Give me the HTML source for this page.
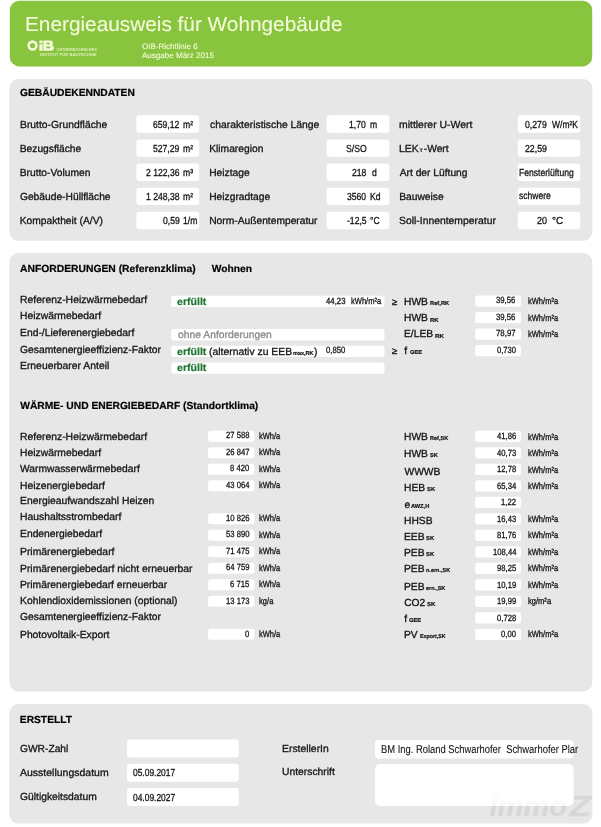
<!DOCTYPE html>
<html><head><meta charset="utf-8"><title>Energieausweis</title>
<style>
html,body{margin:0;padding:0;background:#fff;}
body{width:601px;height:827px;position:relative;overflow:hidden;font-family:"Liberation Sans",sans-serif;}
.p{position:absolute;}
#txt{position:absolute;left:0;top:0;width:601px;height:827px;filter:blur(0.35px);}
.t{position:absolute;white-space:pre;line-height:1;transform-origin:0 0;text-rendering:geometricPrecision;-webkit-text-stroke:0.3px;}
</style></head><body>
<svg class="p" style="left:0;top:0;filter:blur(0.4px)" width="601" height="827" viewBox="0 0 601 827">
<rect x="9.8" y="0.8" width="582.4" height="65.6" rx="9.5" fill="#88c43d"/>
<rect x="9.4" y="79" width="582.9" height="161.8" rx="9" fill="#e7e7e7"/>
<rect x="9.4" y="253" width="582.9" height="438.4" rx="9" fill="#e7e7e7"/>
<rect x="9.4" y="704" width="582.9" height="119.6" rx="9" fill="#e7e7e7"/>
<g fill="#fff">
<rect x="136.4" y="115.3" width="62.8" height="17.4" rx="3"/>
<rect x="326.6" y="115.3" width="62.7" height="17.4" rx="3"/>
<rect x="517.8" y="115.3" width="62.5" height="17.4" rx="3"/>
<rect x="136.4" y="139.4" width="62.8" height="17.4" rx="3"/>
<rect x="326.6" y="139.4" width="62.7" height="17.4" rx="3"/>
<rect x="517.8" y="139.4" width="62.5" height="17.4" rx="3"/>
<rect x="136.4" y="163.6" width="62.8" height="17.4" rx="3"/>
<rect x="326.6" y="163.6" width="62.7" height="17.4" rx="3"/>
<rect x="517.8" y="163.6" width="62.5" height="17.4" rx="3"/>
<rect x="136.4" y="187.7" width="62.8" height="17.4" rx="3"/>
<rect x="326.6" y="187.7" width="62.7" height="17.4" rx="3"/>
<rect x="517.8" y="187.7" width="62.5" height="17.4" rx="3"/>
<rect x="136.4" y="211.8" width="62.8" height="17.4" rx="3"/>
<rect x="326.6" y="211.8" width="62.7" height="17.4" rx="3"/>
<rect x="517.8" y="211.8" width="62.5" height="17.4" rx="3"/>
<rect x="171.2" y="295.7" width="213.3" height="11.4" rx="2.5"/>
<rect x="171.2" y="329.0" width="213.3" height="11.4" rx="2.5"/>
<rect x="171.2" y="345.7" width="213.3" height="11.4" rx="2.5"/>
<rect x="171.2" y="362.4" width="213.3" height="11.4" rx="2.5"/>
<rect x="475.2" y="295.5" width="45.8" height="11.3" rx="2.5"/>
<rect x="475.2" y="312.0" width="45.8" height="11.3" rx="2.5"/>
<rect x="475.2" y="328.5" width="45.8" height="11.3" rx="2.5"/>
<rect x="475.2" y="345.0" width="45.8" height="11.3" rx="2.5"/>
<rect x="208.0" y="430.8" width="46.4" height="11.0" rx="2.5"/>
<rect x="208.0" y="447.3" width="46.4" height="11.0" rx="2.5"/>
<rect x="208.0" y="463.8" width="46.4" height="11.0" rx="2.5"/>
<rect x="208.0" y="480.3" width="46.4" height="11.0" rx="2.5"/>
<rect x="208.0" y="513.3" width="46.4" height="11.0" rx="2.5"/>
<rect x="208.0" y="529.8" width="46.4" height="11.0" rx="2.5"/>
<rect x="208.0" y="546.3" width="46.4" height="11.0" rx="2.5"/>
<rect x="208.0" y="562.8" width="46.4" height="11.0" rx="2.5"/>
<rect x="208.0" y="579.3" width="46.4" height="11.0" rx="2.5"/>
<rect x="208.0" y="595.8" width="46.4" height="11.0" rx="2.5"/>
<rect x="208.0" y="628.8" width="46.4" height="11.0" rx="2.5"/>
<rect x="475.2" y="430.8" width="45.8" height="11.2" rx="2.5"/>
<rect x="475.2" y="447.3" width="45.8" height="11.2" rx="2.5"/>
<rect x="475.2" y="463.8" width="45.8" height="11.2" rx="2.5"/>
<rect x="475.2" y="480.3" width="45.8" height="11.2" rx="2.5"/>
<rect x="475.2" y="496.8" width="45.8" height="11.2" rx="2.5"/>
<rect x="475.2" y="513.3" width="45.8" height="11.2" rx="2.5"/>
<rect x="475.2" y="529.8" width="45.8" height="11.2" rx="2.5"/>
<rect x="475.2" y="546.3" width="45.8" height="11.2" rx="2.5"/>
<rect x="475.2" y="562.8" width="45.8" height="11.2" rx="2.5"/>
<rect x="475.2" y="579.3" width="45.8" height="11.2" rx="2.5"/>
<rect x="475.2" y="595.8" width="45.8" height="11.2" rx="2.5"/>
<rect x="475.2" y="612.3" width="45.8" height="11.2" rx="2.5"/>
<rect x="475.2" y="628.8" width="45.8" height="11.2" rx="2.5"/>
<rect x="127.0" y="739.6" width="111.8" height="18.0" rx="3"/>
<rect x="127.0" y="763.8" width="111.8" height="18.0" rx="3"/>
<rect x="127.0" y="788.0" width="111.8" height="18.0" rx="3"/>
<rect x="375.0" y="740.0" width="198.5" height="18.6" rx="3.5"/>
<rect x="375.0" y="764.0" width="198.6" height="42.0" rx="5"/>
</g></svg>
<div id="txt">
<span class="t" style="left:25.34px;top:15px;font-size:20.3px;color:#f3f9d9;transform:scaleX(1.0252);-webkit-text-stroke:0.1px;">Energieausweis für Wohngebäude</span>
<span class="t" style="left:142.10px;top:43px;font-size:8px;color:#f3f9d9;-webkit-text-stroke:0.12px;">OIB-Richtlinie 6</span>
<span class="t" style="left:142.17px;top:52px;font-size:8px;color:#f3f9d9;transform:scaleX(1.0044);-webkit-text-stroke:0.12px;">Ausgabe März 2015</span>
<span class="t" style="left:20.02px;top:89px;font-size:10.26px;color:#000;font-weight:700;-webkit-text-stroke:0.2px;">GEBÄUDEKENNDATEN</span>
<span class="t" style="left:19.70px;top:121px;font-size:10.26px;color:#141414;transform:scaleX(1.0081);">Brutto-Grundfläche</span>
<span class="t" style="left:19.73px;top:145px;font-size:10.26px;color:#141414;">Bezugsfläche</span>
<span class="t" style="left:19.73px;top:169px;font-size:10.26px;color:#141414;">Brutto-Volumen</span>
<span class="t" style="left:19.94px;top:193px;font-size:10.26px;color:#141414;">Gebäude-Hüllfläche</span>
<span class="t" style="left:19.72px;top:217px;font-size:10.26px;color:#141414;">Kompaktheit (A/V)</span>
<span class="t" style="left:209.51px;top:121px;font-size:10.26px;color:#141414;transform:scaleX(1.0099);">charakteristische Länge</span>
<span class="t" style="left:209.23px;top:145px;font-size:10.26px;color:#141414;">Klimaregion</span>
<span class="t" style="left:209.23px;top:169px;font-size:10.26px;color:#141414;">Heiztage</span>
<span class="t" style="left:209.23px;top:193px;font-size:10.26px;color:#141414;">Heizgradtage</span>
<span class="t" style="left:209.21px;top:217px;font-size:10.26px;color:#141414;">Norm-Außentemperatur</span>
<span class="t" style="left:399.30px;top:121px;font-size:10.26px;color:#141414;transform:scaleX(1.0163);">mittlerer U-Wert</span>
<span class="t" style="left:399.72px;top:169px;font-size:10.26px;color:#141414;">Art der Lüftung</span>
<span class="t" style="left:399.23px;top:193px;font-size:10.26px;color:#141414;">Bauweise</span>
<span class="t" style="left:399.25px;top:217px;font-size:10.26px;color:#141414;transform:scaleX(1.0122);">Soll-Innentemperatur</span>
<span class="t" style="left:399.21px;top:145px;font-size:10.26px;color:#141414;transform:scaleX(1.0154);">LEK</span>
<span class="t" style="left:419.68px;top:150px;font-size:4.8px;color:#141414;font-weight:700;-webkit-text-stroke:0.2px;">T</span>
<span class="t" style="left:423.77px;top:145px;font-size:10.26px;color:#141414;">-Wert</span>
<span class="t" style="left:153.28px;top:121px;font-size:10.2px;color:#141414;transform:scaleX(0.8450);">659,12</span>
<span class="t" style="left:182.83px;top:121px;font-size:10.2px;color:#141414;transform:scaleX(0.8450);">m²</span>
<span class="t" style="left:153.09px;top:145px;font-size:10.2px;color:#141414;transform:scaleX(0.8450);">527,29</span>
<span class="t" style="left:182.83px;top:145px;font-size:10.2px;color:#141414;transform:scaleX(0.8450);">m²</span>
<span class="t" style="left:145.89px;top:169px;font-size:10.2px;color:#141414;transform:scaleX(0.8450);">2 122,36</span>
<span class="t" style="left:182.83px;top:169px;font-size:10.2px;color:#141414;transform:scaleX(0.8450);">m³</span>
<span class="t" style="left:145.92px;top:193px;font-size:10.2px;color:#141414;transform:scaleX(0.8450);">1 248,38</span>
<span class="t" style="left:182.83px;top:193px;font-size:10.2px;color:#141414;transform:scaleX(0.8450);">m²</span>
<span class="t" style="left:162.58px;top:217px;font-size:10.2px;color:#141414;transform:scaleX(0.8450);">0,59</span>
<span class="t" style="left:182.71px;top:217px;font-size:10.2px;color:#141414;transform:scaleX(0.8450);">1/m</span>
<span class="t" style="left:349.17px;top:121px;font-size:10.2px;color:#141414;transform:scaleX(0.8450);">1,70</span>
<span class="t" style="left:370.13px;top:121px;font-size:10.2px;color:#141414;transform:scaleX(0.8450);">m</span>
<span class="t" style="left:345.62px;top:145px;font-size:10.2px;color:#141414;transform:scaleX(0.8450);">S/SO</span>
<span class="t" style="left:351.80px;top:169px;font-size:10.2px;color:#141414;transform:scaleX(0.8450);">218</span>
<span class="t" style="left:372.34px;top:169px;font-size:10.2px;color:#141414;transform:scaleX(0.8450);">d</span>
<span class="t" style="left:346.80px;top:193px;font-size:10.2px;color:#141414;transform:scaleX(0.8450);">3560</span>
<span class="t" style="left:370.05px;top:193px;font-size:10.2px;color:#141414;transform:scaleX(0.8450);">Kd</span>
<span class="t" style="left:346.55px;top:217px;font-size:10.2px;color:#141414;transform:scaleX(0.8450);">-12,5</span>
<span class="t" style="left:370.07px;top:217px;font-size:10.2px;color:#141414;transform:scaleX(0.8450);">°C</span>
<span class="t" style="left:524.75px;top:121px;font-size:10.2px;color:#141414;transform:scaleX(0.8522);">0,279</span>
<span class="t" style="left:551.76px;top:121px;font-size:10.2px;color:#141414;transform:scaleX(0.8340);">W/m²K</span>
<span class="t" style="left:524.62px;top:145px;font-size:10.2px;color:#141414;transform:scaleX(0.8582);">22,59</span>
<span class="t" style="left:519.15px;top:169px;font-size:10.2px;color:#141414;transform:scaleX(0.8408);">Fensterlüftung</span>
<span class="t" style="left:519.30px;top:192px;font-size:10.2px;color:#141414;transform:scaleX(0.8393);">schwere</span>
<span class="t" style="left:536.50px;top:217px;font-size:10.2px;color:#141414;transform:scaleX(0.8826);">20</span>
<span class="t" style="left:551.67px;top:217px;font-size:10.2px;color:#141414;transform:scaleX(0.9804);">°C</span>
<span class="t" style="left:20.02px;top:265px;font-size:10.26px;color:#000;font-weight:700;-webkit-text-stroke:0.2px;transform:scaleX(1.0075);">ANFORDERUNGEN (Referenzklima)</span>
<span class="t" style="left:211.76px;top:265px;font-size:10.26px;color:#000;font-weight:700;-webkit-text-stroke:0.2px;">Wohnen</span>
<span class="t" style="left:19.72px;top:296px;font-size:10.26px;color:#141414;transform:scaleX(1.0138);">Referenz-Heizwärmebedarf</span>
<span class="t" style="left:19.72px;top:312px;font-size:10.26px;color:#141414;transform:scaleX(1.0091);">Heizwärmebedarf</span>
<span class="t" style="left:19.72px;top:329px;font-size:10.26px;color:#141414;transform:scaleX(1.0091);">End-/Lieferenergiebedarf</span>
<span class="t" style="left:19.94px;top:346px;font-size:10.26px;color:#141414;transform:scaleX(1.0073);">Gesamtenergieeffizienz-Faktor</span>
<span class="t" style="left:19.71px;top:362px;font-size:10.26px;color:#141414;transform:scaleX(1.0106);">Erneuerbarer Anteil</span>
<span class="t" style="left:177.49px;top:298px;font-size:10.26px;color:#1f7632;font-weight:700;-webkit-text-stroke:0.2px;transform:scaleX(1.0315);">erfüllt</span>
<span class="t" style="left:177.52px;top:331px;font-size:10.26px;color:#8a8a8a;transform:scaleX(1.0083);">ohne Anforderungen</span>
<span class="t" style="left:177.49px;top:348px;font-size:10.26px;color:#1f7632;font-weight:700;-webkit-text-stroke:0.2px;transform:scaleX(1.0315);">erfüllt</span>
<span class="t" style="left:208.54px;top:348px;font-size:10.26px;color:#141414;transform:scaleX(1.0131);">(alternativ zu EEB</span>
<span class="t" style="left:293.33px;top:352px;font-size:5.7px;color:#141414;font-weight:700;-webkit-text-stroke:0.2px;transform:scaleX(0.9696);">max,RK</span>
<span class="t" style="left:314.07px;top:348px;font-size:10.26px;color:#141414;">)</span>
<span class="t" style="left:177.49px;top:364px;font-size:10.26px;color:#1f7632;font-weight:700;-webkit-text-stroke:0.2px;transform:scaleX(1.0315);">erfüllt</span>
<span class="t" style="left:326.24px;top:297px;font-size:9.0px;color:#141414;transform:scaleX(0.8655);">44,23</span>
<span class="t" style="left:350.71px;top:297px;font-size:9.0px;color:#141414;transform:scaleX(0.8386);">kWh/m²a</span>
<span class="t" style="left:326.39px;top:346px;font-size:9.0px;color:#141414;transform:scaleX(0.8563);">0,850</span>
<span class="t" style="left:392.11px;top:298px;font-size:9px;color:#141414;transform:scaleX(1.0658);">≥</span>
<span class="t" style="left:392.11px;top:347px;font-size:9px;color:#141414;transform:scaleX(1.0658);">≥</span>
<span class="t" style="left:404.02px;top:298px;font-size:10.26px;color:#141414;">HWB</span>
<span class="t" style="left:429.94px;top:302px;font-size:5.7px;color:#141414;font-weight:700;-webkit-text-stroke:0.2px;transform:scaleX(1.0123);">Ref,RK</span>
<span class="t" style="left:404.02px;top:314px;font-size:10.26px;color:#141414;">HWB</span>
<span class="t" style="left:429.93px;top:319px;font-size:5.7px;color:#141414;font-weight:700;-webkit-text-stroke:0.2px;transform:scaleX(1.0483);">RK</span>
<span class="t" style="left:404.02px;top:330px;font-size:10.26px;color:#141414;">E/LEB</span>
<span class="t" style="left:434.61px;top:335px;font-size:5.7px;color:#141414;font-weight:700;-webkit-text-stroke:0.2px;transform:scaleX(1.0891);">RK</span>
<span class="t" style="left:404.35px;top:347px;font-size:10.26px;color:#141414;">f</span>
<span class="t" style="left:409.63px;top:351px;font-size:5.7px;color:#141414;font-weight:700;-webkit-text-stroke:0.2px;transform:scaleX(0.9952);">GEE</span>
<span class="t" style="left:496.46px;top:296px;font-size:9.0px;color:#141414;transform:scaleX(0.8611);">39,56</span>
<span class="t" style="left:527.71px;top:297px;font-size:9.0px;color:#141414;transform:scaleX(0.8358);">kWh/m²a</span>
<span class="t" style="left:496.46px;top:313px;font-size:9.0px;color:#141414;transform:scaleX(0.8611);">39,56</span>
<span class="t" style="left:527.71px;top:314px;font-size:9.0px;color:#141414;transform:scaleX(0.8358);">kWh/m²a</span>
<span class="t" style="left:496.39px;top:329px;font-size:9.0px;color:#141414;transform:scaleX(0.8731);">78,97</span>
<span class="t" style="left:527.71px;top:330px;font-size:9.0px;color:#141414;transform:scaleX(0.8358);">kWh/m²a</span>
<span class="t" style="left:496.68px;top:346px;font-size:9.0px;color:#141414;transform:scaleX(0.8479);">0,730</span>
<span class="t" style="left:20.26px;top:402px;font-size:10.26px;color:#000;font-weight:700;-webkit-text-stroke:0.2px;">WÄRME- UND ENERGIEBEDARF (Standortklima)</span>
<span class="t" style="left:19.72px;top:433px;font-size:10.26px;color:#141414;transform:scaleX(1.0138);">Referenz-Heizwärmebedarf</span>
<span class="t" style="left:19.72px;top:449px;font-size:10.26px;color:#141414;transform:scaleX(1.0091);">Heizwärmebedarf</span>
<span class="t" style="left:20.24px;top:465px;font-size:10.26px;color:#141414;transform:scaleX(1.0043);">Warmwasserwärmebedarf</span>
<span class="t" style="left:19.72px;top:482px;font-size:10.26px;color:#141414;transform:scaleX(1.0126);">Heizenergiebedarf</span>
<span class="t" style="left:19.70px;top:497px;font-size:10.26px;color:#141414;transform:scaleX(1.0106);">Energieaufwandszahl Heizen</span>
<span class="t" style="left:19.72px;top:513px;font-size:10.26px;color:#141414;transform:scaleX(1.0103);">Haushaltsstrombedarf</span>
<span class="t" style="left:19.72px;top:530px;font-size:10.26px;color:#141414;transform:scaleX(1.0072);">Endenergiebedarf</span>
<span class="t" style="left:19.72px;top:548px;font-size:10.26px;color:#141414;transform:scaleX(1.0110);">Primärenergiebedarf</span>
<span class="t" style="left:19.72px;top:565px;font-size:10.26px;color:#141414;transform:scaleX(1.0095);">Primärenergiebedarf nicht erneuerbar</span>
<span class="t" style="left:19.73px;top:581px;font-size:10.26px;color:#141414;transform:scaleX(1.0054);">Primärenergiebedarf erneuerbar</span>
<span class="t" style="left:19.72px;top:597px;font-size:10.26px;color:#141414;transform:scaleX(1.0086);">Kohlendioxidemissionen (optional)</span>
<span class="t" style="left:19.94px;top:613px;font-size:10.26px;color:#141414;transform:scaleX(1.0073);">Gesamtenergieeffizienz-Faktor</span>
<span class="t" style="left:19.72px;top:631px;font-size:10.26px;color:#141414;transform:scaleX(1.0064);">Photovoltaik-Export</span>
<span class="t" style="left:226.15px;top:431px;font-size:9.0px;color:#141414;transform:scaleX(0.8500);">27 588</span>
<span class="t" style="left:258.52px;top:432px;font-size:9.0px;color:#141414;transform:scaleX(0.8342);">kWh/a</span>
<span class="t" style="left:226.46px;top:448px;font-size:9.0px;color:#141414;transform:scaleX(0.8500);">26 847</span>
<span class="t" style="left:258.52px;top:448px;font-size:9.0px;color:#141414;transform:scaleX(0.8342);">kWh/a</span>
<span class="t" style="left:230.35px;top:464px;font-size:9.0px;color:#141414;transform:scaleX(0.8500);">8 420</span>
<span class="t" style="left:258.52px;top:465px;font-size:9.0px;color:#141414;transform:scaleX(0.8342);">kWh/a</span>
<span class="t" style="left:226.18px;top:481px;font-size:9.0px;color:#141414;transform:scaleX(0.8500);">43 064</span>
<span class="t" style="left:258.52px;top:481px;font-size:9.0px;color:#141414;transform:scaleX(0.8342);">kWh/a</span>
<span class="t" style="left:226.18px;top:514px;font-size:9.0px;color:#141414;transform:scaleX(0.8500);">10 826</span>
<span class="t" style="left:258.52px;top:514px;font-size:9.0px;color:#141414;transform:scaleX(0.8342);">kWh/a</span>
<span class="t" style="left:226.09px;top:530px;font-size:9.0px;color:#141414;transform:scaleX(0.8500);">53 890</span>
<span class="t" style="left:258.52px;top:531px;font-size:9.0px;color:#141414;transform:scaleX(0.8342);">kWh/a</span>
<span class="t" style="left:226.16px;top:547px;font-size:9.0px;color:#141414;transform:scaleX(0.8500);">71 475</span>
<span class="t" style="left:258.52px;top:547px;font-size:9.0px;color:#141414;transform:scaleX(0.8342);">kWh/a</span>
<span class="t" style="left:226.15px;top:563px;font-size:9.0px;color:#141414;transform:scaleX(0.8500);">64 759</span>
<span class="t" style="left:258.52px;top:564px;font-size:9.0px;color:#141414;transform:scaleX(0.8342);">kWh/a</span>
<span class="t" style="left:230.41px;top:580px;font-size:9.0px;color:#141414;transform:scaleX(0.8500);">6 715</span>
<span class="t" style="left:258.52px;top:580px;font-size:9.0px;color:#141414;transform:scaleX(0.8342);">kWh/a</span>
<span class="t" style="left:226.16px;top:597px;font-size:9.0px;color:#141414;transform:scaleX(0.8500);">13 173</span>
<span class="t" style="left:258.51px;top:597px;font-size:9.0px;color:#141414;transform:scaleX(0.8470);">kg/a</span>
<span class="t" style="left:245.17px;top:630px;font-size:9.0px;color:#141414;transform:scaleX(0.8500);">0</span>
<span class="t" style="left:258.52px;top:630px;font-size:9.0px;color:#141414;transform:scaleX(0.8342);">kWh/a</span>
<span class="t" style="left:404.02px;top:433px;font-size:10.26px;color:#141414;">HWB</span>
<span class="t" style="left:430.05px;top:437px;font-size:5.7px;color:#141414;font-weight:700;-webkit-text-stroke:0.2px;transform:scaleX(0.9739);">Ref,SK</span>
<span class="t" style="left:404.02px;top:450px;font-size:10.26px;color:#141414;">HWB</span>
<span class="t" style="left:430.01px;top:454px;font-size:5.7px;color:#141414;font-weight:700;-webkit-text-stroke:0.2px;">SK</span>
<span class="t" style="left:404.52px;top:468px;font-size:10.26px;color:#141414;">WWWB</span>
<span class="t" style="left:404.02px;top:484px;font-size:10.26px;color:#141414;">HEB</span>
<span class="t" style="left:426.90px;top:488px;font-size:5.7px;color:#141414;font-weight:700;-webkit-text-stroke:0.2px;transform:scaleX(1.0299);">SK</span>
<span class="t" style="left:404.43px;top:501px;font-size:10.26px;color:#141414;">e</span>
<span class="t" style="left:411.31px;top:505px;font-size:5.7px;color:#141414;font-weight:700;-webkit-text-stroke:0.2px;transform:scaleX(0.9952);">AWZ,H</span>
<span class="t" style="left:404.02px;top:517px;font-size:10.26px;color:#141414;">HHSB</span>
<span class="t" style="left:404.02px;top:533px;font-size:10.26px;color:#141414;">EEB</span>
<span class="t" style="left:426.00px;top:537px;font-size:5.7px;color:#141414;font-weight:700;-webkit-text-stroke:0.2px;transform:scaleX(1.0299);">SK</span>
<span class="t" style="left:404.02px;top:549px;font-size:10.26px;color:#141414;">PEB</span>
<span class="t" style="left:426.00px;top:553px;font-size:5.7px;color:#141414;font-weight:700;-webkit-text-stroke:0.2px;transform:scaleX(1.0299);">SK</span>
<span class="t" style="left:404.02px;top:565px;font-size:10.26px;color:#141414;">PEB</span>
<span class="t" style="left:426.07px;top:569px;font-size:5.7px;color:#141414;font-weight:700;-webkit-text-stroke:0.2px;transform:scaleX(0.9656);">n.ern.,SK</span>
<span class="t" style="left:404.02px;top:583px;font-size:10.26px;color:#141414;">PEB</span>
<span class="t" style="left:426.20px;top:587px;font-size:5.7px;color:#141414;font-weight:700;-webkit-text-stroke:0.2px;transform:scaleX(0.9708);">ern.,SK</span>
<span class="t" style="left:404.23px;top:599px;font-size:10.26px;color:#141414;">CO2</span>
<span class="t" style="left:426.69px;top:603px;font-size:5.7px;color:#141414;font-weight:700;-webkit-text-stroke:0.2px;transform:scaleX(1.0716);">SK</span>
<span class="t" style="left:404.35px;top:615px;font-size:10.26px;color:#141414;">f</span>
<span class="t" style="left:408.83px;top:619px;font-size:5.7px;color:#141414;font-weight:700;-webkit-text-stroke:0.2px;transform:scaleX(1.0040);">GEE</span>
<span class="t" style="left:404.03px;top:631px;font-size:10.26px;color:#141414;">PV</span>
<span class="t" style="left:419.87px;top:635px;font-size:5.7px;color:#141414;font-weight:700;-webkit-text-stroke:0.2px;transform:scaleX(0.9270);">Export,SK</span>
<span class="t" style="left:496.83px;top:432px;font-size:9.0px;color:#141414;transform:scaleX(0.8500);">41,86</span>
<span class="t" style="left:527.71px;top:433px;font-size:9.0px;color:#141414;transform:scaleX(0.8358);">kWh/m²a</span>
<span class="t" style="left:496.78px;top:449px;font-size:9.0px;color:#141414;transform:scaleX(0.8500);">40,73</span>
<span class="t" style="left:527.71px;top:449px;font-size:9.0px;color:#141414;transform:scaleX(0.8358);">kWh/m²a</span>
<span class="t" style="left:496.81px;top:465px;font-size:9.0px;color:#141414;transform:scaleX(0.8500);">12,78</span>
<span class="t" style="left:527.71px;top:466px;font-size:9.0px;color:#141414;transform:scaleX(0.8358);">kWh/m²a</span>
<span class="t" style="left:496.83px;top:482px;font-size:9.0px;color:#141414;transform:scaleX(0.8500);">65,34</span>
<span class="t" style="left:527.71px;top:482px;font-size:9.0px;color:#141414;transform:scaleX(0.8358);">kWh/m²a</span>
<span class="t" style="left:501.46px;top:498px;font-size:9.0px;color:#141414;transform:scaleX(0.8500);">1,22</span>
<span class="t" style="left:496.81px;top:515px;font-size:9.0px;color:#141414;transform:scaleX(0.8500);">16,43</span>
<span class="t" style="left:527.71px;top:515px;font-size:9.0px;color:#141414;transform:scaleX(0.8358);">kWh/m²a</span>
<span class="t" style="left:496.83px;top:531px;font-size:9.0px;color:#141414;transform:scaleX(0.8500);">81,76</span>
<span class="t" style="left:527.71px;top:531px;font-size:9.0px;color:#141414;transform:scaleX(0.8358);">kWh/m²a</span>
<span class="t" style="left:492.61px;top:548px;font-size:9.0px;color:#141414;transform:scaleX(0.8500);">108,44</span>
<span class="t" style="left:527.71px;top:548px;font-size:9.0px;color:#141414;transform:scaleX(0.8358);">kWh/m²a</span>
<span class="t" style="left:496.79px;top:564px;font-size:9.0px;color:#141414;transform:scaleX(0.8500);">98,25</span>
<span class="t" style="left:527.71px;top:564px;font-size:9.0px;color:#141414;transform:scaleX(0.8358);">kWh/m²a</span>
<span class="t" style="left:496.83px;top:581px;font-size:9.0px;color:#141414;transform:scaleX(0.8500);">10,19</span>
<span class="t" style="left:527.71px;top:581px;font-size:9.0px;color:#141414;transform:scaleX(0.8358);">kWh/m²a</span>
<span class="t" style="left:496.83px;top:597px;font-size:9.0px;color:#141414;transform:scaleX(0.8500);">19,99</span>
<span class="t" style="left:527.71px;top:597px;font-size:9.0px;color:#141414;transform:scaleX(0.8391);">kg/m²a</span>
<span class="t" style="left:496.79px;top:614px;font-size:9.0px;color:#141414;transform:scaleX(0.8500);">0,728</span>
<span class="t" style="left:500.93px;top:630px;font-size:9.0px;color:#141414;transform:scaleX(0.8500);">0,00</span>
<span class="t" style="left:527.71px;top:630px;font-size:9.0px;color:#141414;transform:scaleX(0.8358);">kWh/m²a</span>
<span class="t" style="left:19.81px;top:716px;font-size:10.26px;color:#000;font-weight:700;-webkit-text-stroke:0.2px;">ERSTELLT</span>
<span class="t" style="left:19.94px;top:745px;font-size:10.26px;color:#141414;">GWR-Zahl</span>
<span class="t" style="left:20.21px;top:769px;font-size:10.26px;color:#141414;transform:scaleX(1.0235);">Ausstellungsdatum</span>
<span class="t" style="left:19.94px;top:793px;font-size:10.26px;color:#141414;transform:scaleX(1.0054);">Gültigkeitsdatum</span>
<span class="t" style="left:132.83px;top:769px;font-size:10.2px;color:#141414;transform:scaleX(0.8272);">05.09.2017</span>
<span class="t" style="left:132.85px;top:794px;font-size:10.2px;color:#141414;transform:scaleX(0.8263);">04.09.2027</span>
<span class="t" style="left:281.72px;top:745px;font-size:10.26px;color:#141414;transform:scaleX(1.0137);">ErstellerIn</span>
<span class="t" style="left:281.77px;top:768px;font-size:10.26px;color:#141414;transform:scaleX(1.0078);">Unterschrift</span>
<span class="t" style="left:380.93px;top:745px;font-size:11.4px;color:#141414;transform:scaleX(0.8237);-webkit-text-stroke:0.1px;">BM Ing. Roland Schwarhofer  Schwarhofer Plar</span>
</div>
<svg class="p" style="left:0;top:0;filter:blur(0.3px)" width="601" height="827" viewBox="0 0 601 827">
<g fill="#f3f9d9">
<circle cx="32.55" cy="45.55" r="3.9" fill="none" stroke="#f3f9d9" stroke-width="2.6"/>
<rect x="39.3" y="40.4" width="3.4" height="2.8" rx="0.8"/>
<rect x="39.3" y="44.2" width="3.4" height="6.5" rx="0.5"/>
<path fill-rule="evenodd" d="M43.3 40.4h6.9a2.7 2.7 0 0 1 1.7 4.9a2.8 2.8 0 0 1 -1.5 5.4h-7.1zM46.4 42.7v1.6h2.7a.8 .8 0 0 0 0 -1.6zM46.4 46.5v1.8h3a.9 .9 0 0 0 0 -1.8z"/>
<text x="56.4" y="50.9" font-family="Liberation Sans" font-weight="700" font-size="3.2" fill-opacity="0.8" textLength="40.4" lengthAdjust="spacingAndGlyphs">ÖSTERREICHISCHES</text>
<text x="40" y="55.7" font-family="Liberation Sans" font-weight="700" font-size="3.2" fill-opacity="0.8" textLength="56.8" lengthAdjust="spacingAndGlyphs">INSTITUT FÜR BAUTECHNIK</text>
</g>
<defs><clipPath id="cw"><rect x="375" y="764" width="198.6" height="42" rx="5"/></clipPath>
<clipPath id="co"><path clip-rule="evenodd" d="M0 0H601V827H0ZM375 764H573.6V806H375Z"/></clipPath></defs>
<g clip-path="url(#co)"><g opacity="0.068" font-family="Liberation Sans" font-weight="700" font-style="italic" fill="#000" stroke="#000" stroke-width="0.4">
<text x="489.5" y="815.8" font-size="28.5" textLength="77.5" lengthAdjust="spacingAndGlyphs">immo</text>
<text x="569.6" y="815.8" font-size="29.5" textLength="21.5" lengthAdjust="spacingAndGlyphs">Z</text>
</g></g>
<g clip-path="url(#cw)"><g opacity="0.022" font-family="Liberation Sans" font-weight="700" font-style="italic" fill="#000" stroke="#000" stroke-width="0.4">
<text x="489.5" y="815.8" font-size="28.5" textLength="77.5" lengthAdjust="spacingAndGlyphs">immo</text>
<text x="569.6" y="815.8" font-size="29.5" textLength="21.5" lengthAdjust="spacingAndGlyphs">Z</text>
</g></g>
</svg>
</body></html>
